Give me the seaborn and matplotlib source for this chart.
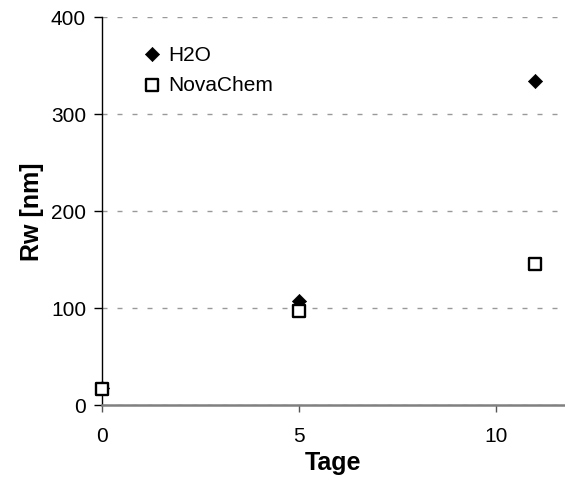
import matplotlib
matplotlib.use("Agg")
import matplotlib.pyplot as plt
import seaborn as sns
import pandas as pd

# Hydrodynamic radius over storage time
days = [0, 5, 11]
h2o = [17, 107, 334]
novachem = [16, 97, 145]

df = pd.concat([
    pd.DataFrame({"Tage": days, "Rw": h2o, "Probe": "H2O"}),
    pd.DataFrame({"Tage": days, "Rw": novachem, "Probe": "NovaChem"}),
])

sns.set_style("white")
plt.rcParams["font.family"] = ["Liberation Sans", "DejaVu Sans"]
plt.rcParams["text.color"] = "black"
plt.rcParams["axes.labelcolor"] = "black"

fig = plt.figure(figsize=(5.65, 4.81), dpi=100)
ax = fig.add_axes([0.1805, 0.156, 0.8195, 0.8066])

sns.scatterplot(data=df[df.Probe == "H2O"], x="Tage", y="Rw", ax=ax,
                marker="D", s=52, color="black", edgecolor="black",
                linewidth=0.5, label="H2O", zorder=3, clip_on=False)
sns.scatterplot(data=df[df.Probe == "NovaChem"], x="Tage", y="Rw", ax=ax,
                marker="s", s=72, facecolor="white", edgecolor="black",
                linewidth=1.7, label="NovaChem", zorder=4, clip_on=False)

ax.set_xlim(0, 11.75)
ax.set_ylim(0, 400)
ax.set_xticks([0, 5, 10])
ax.set_yticks([0, 100, 200, 300, 400])
ax.yaxis.grid(True, color="#999999", linestyle=(0, (3.6, 7.2)), linewidth=1.0)
ax.set_axisbelow(True)

for side in ("top", "right"):
    ax.spines[side].set_visible(False)
ax.spines["left"].set_color("black")
ax.spines["left"].set_linewidth(1.0)
ax.spines["bottom"].set_color("#808080")
ax.spines["bottom"].set_linewidth(1.8)

ax.tick_params(axis="both", labelsize=15, labelcolor="black", length=5,
               direction="out", width=1)
ax.tick_params(axis="x", bottom=True, color="#555555", pad=10)
ax.tick_params(axis="y", left=True, color="black", length=6, pad=5.5)

ax.set_xlabel("Tage", fontsize=18, fontweight="bold", labelpad=4)
ax.set_ylabel("Rw [nm]", fontsize=18, fontweight="bold", labelpad=5)

ax.legend(loc="upper left", bbox_to_anchor=(0.0864, 0.928), frameon=False,
          fontsize=15, handletextpad=0.25, borderaxespad=0, borderpad=0,
          handlelength=1.0, labelspacing=0.55)

fig.savefig("out.png", dpi=100)
